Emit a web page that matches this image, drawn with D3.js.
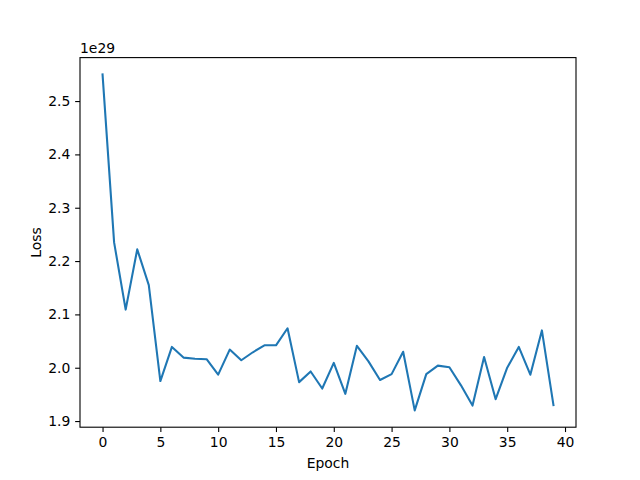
<!DOCTYPE html>
<html>
<head>
<meta charset="utf-8">
<script src="https://cdn.jsdelivr.net/npm/d3@7"></script>
<style>
    body { margin: 0; background: white; }
    text { font-family: "DejaVu Sans", sans-serif; }
</style>
</head>
<body>
<svg id="chart"></svg>
<script>
// loss per epoch, in units of 1e29
var epochs = d3.range(0, 40);
var loss = [2.550, 2.235, 2.109, 2.222, 2.155, 1.975, 2.039, 2.019, 2.017, 2.016,
            1.987, 2.034, 2.014, 2.029, 2.042, 2.042, 2.074, 1.973, 1.993, 1.961,
            2.009, 1.951, 2.041, 2.012, 1.977, 1.988, 2.030, 1.920, 1.988, 2.004,
            2.001, 1.967, 1.929, 2.020, 1.941, 2.000, 2.039, 1.987, 2.070, 1.930];
var xTicks = [0, 5, 10, 15, 20, 25, 30, 35, 40];
var yTicks = [1.9, 2.0, 2.1, 2.2, 2.3, 2.4, 2.5];

var dimensions = {
    width: 640,
    height: 480,
    margin: { top: 57.6, bottom: 52.8, left: 80, right: 64 }
};

var svg = d3.select("#chart")
    .attr("width", dimensions.width)
    .attr("height", dimensions.height);

var data = epochs.map((e, i) => ({ epoch: e, loss: loss[i] }));

// matplotlib style 5% margins
var xMin = d3.min(epochs), xMax = d3.max(epochs);
var xPad = (xMax - xMin) * 0.05;
var yMin = d3.min(loss), yMax = d3.max(loss);
var yPad = (yMax - yMin) * 0.05;

var xScale = d3.scaleLinear()
    .domain([xMin - xPad, xMax + xPad])
    .range([dimensions.margin.left, dimensions.width - dimensions.margin.right]);

var yScale = d3.scaleLinear()
    .domain([yMin - yPad, yMax + yPad])
    .range([dimensions.height - dimensions.margin.bottom, dimensions.margin.top]);

var tickLen = 4.86, tickPad = 4.86;

var xAxis = svg.append("g")
    .attr("transform", `translate(0, ${dimensions.height - dimensions.margin.bottom})`)
    .call(d3.axisBottom(xScale).tickValues(xTicks).tickSize(tickLen).tickPadding(tickPad).tickFormat(d3.format("d")));

var yAxis = svg.append("g")
    .attr("transform", `translate(${dimensions.margin.left}, 0)`)
    .call(d3.axisLeft(yScale).tickValues(yTicks).tickSize(tickLen).tickPadding(tickPad).tickFormat(d3.format(".1f")));

[xAxis, yAxis].forEach(function (ax) {
    ax.select(".domain").remove();
    ax.selectAll(".tick line").attr("stroke", "black").attr("stroke-width", 1.1);
    ax.selectAll(".tick text")
        .attr("fill", "black")
        .style("font-size", "13.9px")
        .style("font-family", "DejaVu Sans");
});

// line
var line = d3.line()
    .x(d => xScale(d.epoch))
    .y(d => yScale(d.loss));

svg.append("path")
    .datum(data)
    .attr("fill", "none")
    .attr("stroke", "#1f77b4")
    .attr("stroke-width", 2.08)
    .attr("stroke-linejoin", "round")
    .attr("stroke-linecap", "square")
    .attr("d", line);

// frame
svg.append("rect")
    .attr("x", dimensions.margin.left)
    .attr("y", dimensions.margin.top)
    .attr("width", dimensions.width - dimensions.margin.left - dimensions.margin.right)
    .attr("height", dimensions.height - dimensions.margin.top - dimensions.margin.bottom)
    .attr("fill", "none")
    .attr("stroke", "black")
    .attr("stroke-width", 1.1);

// labels
svg.append("text")
    .attr("x", (dimensions.margin.left + dimensions.width - dimensions.margin.right) / 2)
    .attr("y", 468)
    .attr("text-anchor", "middle")
    .style("font-size", "13.9px")
    .text("Epoch");

svg.append("text")
    .attr("transform", `translate(41, ${(dimensions.margin.top + dimensions.height - dimensions.margin.bottom) / 2}) rotate(-90)`)
    .attr("text-anchor", "middle")
    .style("font-size", "13.9px")
    .text("Loss");

svg.append("text")
    .attr("x", dimensions.margin.left)
    .attr("y", 53)
    .style("font-size", "13.9px")
    .text("1e29");
</script>
</body>
</html>
